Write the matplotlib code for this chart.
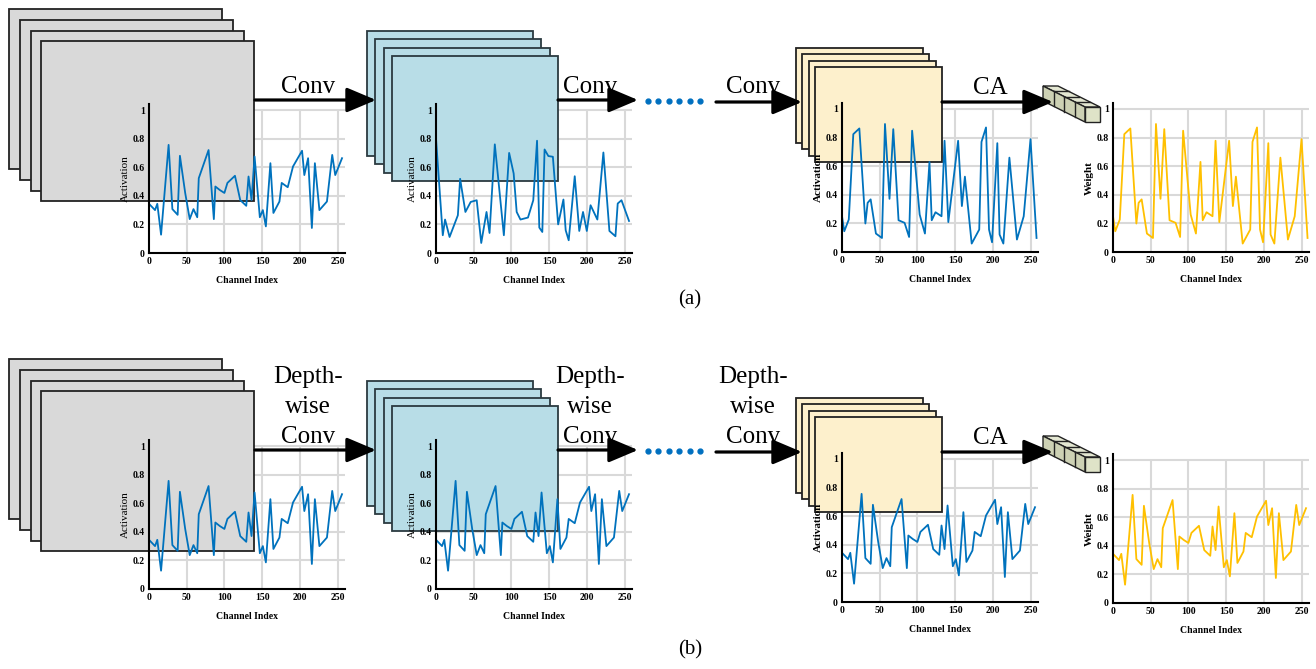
import numpy as np
import matplotlib
matplotlib.use("Agg")
import matplotlib.pyplot as plt
from matplotlib.patches import Rectangle, Polygon

# --- data ------------------------------------------------------------------
# input feature map / depthwise-conv activations
ch_in = [0, 8, 11, 16, 26, 31, 38, 41, 48, 54, 59, 64, 66, 79, 86, 88, 94, 100,
         104, 114, 121, 129, 132, 136, 140, 147, 151, 155, 161, 165, 173, 176,
         184, 191, 203, 206, 211, 216, 220, 226, 236, 243, 247, 256]
act_in = [0.344, 0.30, 0.344, 0.128, 0.756, 0.307, 0.267, 0.68, 0.42, 0.237,
          0.307, 0.25, 0.523, 0.72, 0.237, 0.465, 0.44, 0.42, 0.49, 0.54, 0.37,
          0.33, 0.535, 0.37, 0.675, 0.25, 0.30, 0.186, 0.628, 0.28, 0.36, 0.49,
          0.46, 0.605, 0.715, 0.545, 0.663, 0.175, 0.628, 0.30, 0.36, 0.686,
          0.545, 0.663]

# after the first conv
ch_conv = [0, 9, 12, 18, 29, 32, 39, 46, 54, 60, 67, 71, 78, 90, 97, 103, 107,
           112, 122, 129, 134, 137, 141, 144, 149, 155, 162, 169, 172, 176, 184,
           190, 195, 200, 205, 214, 222, 230, 238, 241, 246, 256]
act_conv = [0.80, 0.124, 0.234, 0.112, 0.264, 0.519, 0.287, 0.357, 0.369, 0.07,
            0.287, 0.14, 0.76, 0.124, 0.70, 0.556, 0.287, 0.234, 0.248, 0.369,
            0.785, 0.178, 0.147, 0.724, 0.678, 0.673, 0.20, 0.374, 0.159, 0.089,
            0.537, 0.154, 0.287, 0.154, 0.334, 0.234, 0.703, 0.154, 0.117,
            0.346, 0.369, 0.224]

# after the last conv (also the CA weights in (a))
ch_last = [0, 3, 9, 15, 23, 31, 34, 38, 45, 53, 57, 63, 68, 75, 83, 89, 93, 103,
           110, 116, 119, 124, 132, 136, 141, 154, 159, 163, 172, 182, 185, 191,
           195, 199, 206, 209, 214, 222, 232, 241, 250, 258]
act_last = [0.25, 0.145, 0.227, 0.824, 0.864, 0.199, 0.344, 0.368, 0.129, 0.098,
            0.895, 0.372, 0.859, 0.222, 0.204, 0.105, 0.848, 0.262, 0.129, 0.63,
            0.222, 0.278, 0.25, 0.778, 0.209, 0.778, 0.321, 0.527, 0.059, 0.157,
            0.77, 0.871, 0.157, 0.068, 0.761, 0.122, 0.059, 0.66, 0.087, 0.25,
            0.789, 0.098]

x_ticks = [0, 50, 100, 150, 200, 250]
y_ticks = [0, 0.2, 0.4, 0.6, 0.8, 1]
y_tick_labels = ['0', '0.2', '0.4', '0.6', '0.8', '1']

BLUE = '#0072bd'
GOLD = '#ffc000'
W, H = 1316, 669

plt.rcParams['font.family'] = ['Liberation Serif', 'DejaVu Serif']

fig = plt.figure(figsize=(13.16, 6.69), dpi=100)

# overlay axes in pixel coordinates for the diagram parts
top = fig.add_axes([0, 0, 1, 1], zorder=5)
top.set_xlim(0, W)
top.set_ylim(H, 0)
top.axis('off')
top.patch.set_alpha(0)


def chart(left, bottom, x, y, color, ylabel, bold_label):
    # left/bottom are pixel positions of the origin
    per_unit = 143.0
    width = 260 * 0.754
    height = 1.04 * per_unit
    ax = fig.add_axes([left / W, (H - bottom) / H, width / W, height / H], zorder=1)
    ax.patch.set_alpha(0)
    ax.set_xlim(0, 260)
    ax.set_ylim(0, 1.04)
    for yv in y_ticks[1:]:
        ax.axhline(yv, color='#d9d9d9', lw=1.5, zorder=0.5)
    for xv in x_ticks[1:]:
        ax.vlines(xv, 0, 1, color='#d9d9d9', lw=1.5, zorder=0.5)
    ax.plot(x, y, color=color, lw=1.3, zorder=2)
    ax.set_xticks(x_ticks)
    ax.set_yticks(y_ticks)
    ax.set_yticklabels(y_tick_labels)
    ax.tick_params(length=0, pad=3, labelsize=7)
    for lab in ax.get_xticklabels() + ax.get_yticklabels():
        lab.set_fontweight('bold')
    for s in ['top', 'right']:
        ax.spines[s].set_visible(False)
    for s in ['left', 'bottom']:
        ax.spines[s].set_linewidth(1.5)
    ax.set_xlabel('Channel Index', fontsize=7, fontweight='bold', labelpad=7)
    ax.set_ylabel(ylabel, fontsize=8, labelpad=2,
                  fontweight='bold' if bold_label else 'normal')
    return ax


def stack(ax, x0, y0, w, h, step, face, edge):
    for i in range(4):
        r = Rectangle((x0 + i * step, y0 + i * step), w, h, facecolor=face,
                      edgecolor=edge, lw=1.3, transform=top.transData,
                      clip_on=False, zorder=1)
        ax.add_patch(r)


def arrow(x1, x2, y):
    top.annotate('', xy=(x2, y), xytext=(x1, y),
                 arrowprops=dict(arrowstyle='-|>,head_length=0.9,head_width=0.38',
                                 lw=2.3, color='black', mutation_scale=20,
                                 shrinkA=0, shrinkB=0), zorder=6)


def cube_bar(dy):
    a = np.array([1043.0, 86.0 + dy])
    v = np.array([42.0, 21.0])
    w = np.array([15.0, 0.0])
    hgt = np.array([0.0, 15.0])
    f = a + v
    kw = dict(edgecolor='#222222', lw=1.0, zorder=4)
    top.add_patch(Polygon([a, a + w, f + w, f], facecolor='#e4e7d2', **kw))
    top.add_patch(Polygon([a, f, f + hgt, a + hgt], facecolor='#cdd1b4', **kw))
    top.add_patch(Polygon([f, f + w, f + w + hgt, f + hgt], facecolor='#dfe3c8', **kw))
    for t in (0.25, 0.5, 0.75):
        p = a + t * v
        top.plot([p[0], p[0]], [p[1], p[1] + 15], color='#222222', lw=1.0, zorder=4)
        top.plot([p[0], p[0] + 15], [p[1], p[1]], color='#222222', lw=1.0, zorder=4)


rows = [
    dict(dy=0, bottoms=(253, 253, 252, 252),
         data=[(ch_in, act_in), (ch_conv, act_conv), (ch_last, act_last), (ch_last, act_last)],
         label='Conv', label_y=87, cap='(a)'),
    dict(dy=350, bottoms=(589, 589, 602, 603),
         data=[(ch_in, act_in), (ch_in, act_in), (ch_in, act_in), (ch_in, act_in)],
         label='Depth-\nwise\nConv', label_y=407, cap='(b)'),
]
lefts = (149, 436, 842, 1113)

for row in rows:
    dy = row['dy']
    axes = []
    for k in range(4):
        x, y = row['data'][k]
        if k == 3:
            axes.append(chart(lefts[k], row['bottoms'][k], x, y, GOLD, 'Weight', True))
        else:
            axes.append(chart(lefts[k], row['bottoms'][k], x, y, BLUE, 'Activation', k == 2))

    stack(axes[0], 9, 9 + dy, 213, 160, 10.8, '#d9d9d9', '#222222')
    stack(axes[1], 367, 31 + dy, 166, 125, 8.3, '#b8dde7', '#2b3a40')
    stack(axes[2], 796, 48 + dy, 127, 95, 6.3, '#fdf0cc', '#222222')

    ay = 100 + dy
    arrow(255, 376, ay)
    arrow(558, 638, ay)
    arrow(716, 802, ay + 2)
    cube_bar(dy)
    arrow(942, 1053, ay + 2)

    dots_x = np.linspace(648, 700, 6)
    top.plot(dots_x, [ay + 1] * 6, 'o', ms=3.5, color='#0070c0', zorder=6)

    for cx in (308, 590, 753):
        top.text(cx, row['label_y'], row['label'], ha='center', va='center',
                 fontsize=18, linespacing=1.45, zorder=6)
    top.text(990, 88 + dy, 'CA', ha='center', va='center', fontsize=18, zorder=6)
    top.text(690, 300 + dy, row['cap'], ha='center', va='center', fontsize=15, zorder=6)

fig.savefig('out.png', dpi=100)
